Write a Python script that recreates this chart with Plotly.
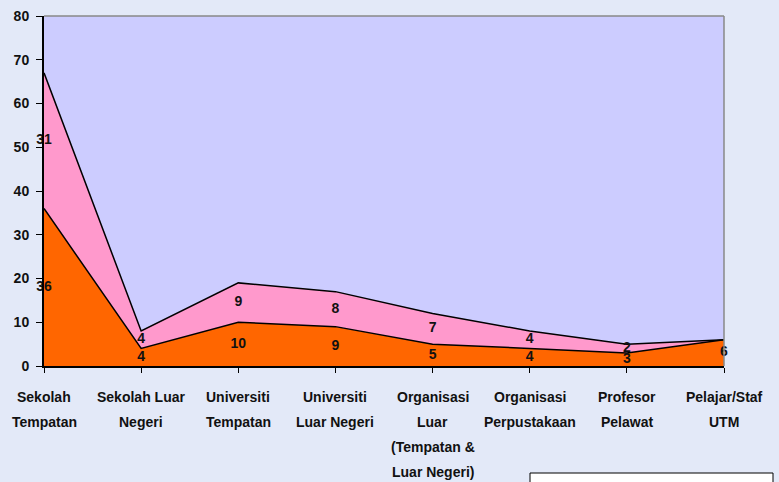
import plotly.graph_objects as go

categories = [
    "Sekolah<br>Tempatan",
    "Sekolah Luar<br>Negeri",
    "Universiti<br>Tempatan",
    "Universiti<br>Luar Negeri",
    "Organisasi<br>Luar<br>(Tempatan &<br>Luar Negeri)",
    "Organisasi<br>Perpustakaan",
    "Profesor<br>Pelawat",
    "Pelajar/Staf<br>UTM",
]
series_orange = [36, 4, 10, 9, 5, 4, 3, 6]
series_pink = [31, 4, 9, 8, 7, 4, 2, 0]
y_ticks = [0, 10, 20, 30, 40, 50, 60, 70, 80]

FONT = "Liberation Sans, Arial, sans-serif"
xs = list(range(len(categories)))

fig = go.Figure()
fig.add_trace(go.Scatter(
    x=xs, y=series_orange, stackgroup="s", mode="lines",
    line=dict(color="black", width=1.5), fillcolor="#FF6600",
    hoverinfo="skip", showlegend=False))
fig.add_trace(go.Scatter(
    x=xs, y=series_pink, stackgroup="s", mode="lines",
    line=dict(color="black", width=1.5), fillcolor="#FF99CC",
    hoverinfo="skip", showlegend=False))

# data labels centred in each band
lab_x, lab_y, lab_t = [], [], []
for i, (o, p) in enumerate(zip(series_orange, series_pink)):
    if o:
        lab_x.append(i); lab_y.append(o / 2); lab_t.append(str(o))
    if p:
        lab_x.append(i); lab_y.append(o + p / 2); lab_t.append(str(p))
fig.add_trace(go.Scatter(
    x=lab_x, y=lab_y, text=lab_t, mode="text", textposition="middle center",
    textfont=dict(family=FONT, size=14, color="#111111", weight="bold"),
    hoverinfo="skip", showlegend=False, cliponaxis=False))

annotations = []
for i, cat in enumerate(categories):
    for j, line in enumerate(cat.split("<br>")):
        annotations.append(dict(
            x=i, y=0, xref="x", yref="paper", text=line, showarrow=False,
            xanchor="center", yanchor="middle", yshift=-31 - 25 * j,
            font=dict(family=FONT, size=14, color="#111111", weight="bold")))

shapes = [
    dict(type="line", xref="paper", yref="paper", x0=0, x1=1, y0=1, y1=1,
         line=dict(color="#888888", width=1.5)),
    dict(type="line", xref="paper", yref="paper", x0=1, x1=1, y0=0, y1=1,
         line=dict(color="#888888", width=1.5)),
    dict(type="rect", xref="paper", yref="paper",
         x0=(530 - 44) / 680, x1=(773 - 44) / 680,
         y0=-0.40, y1=(366 - 473) / 350,
         fillcolor="white", line=dict(color="black", width=1)),
]

fig.update_layout(
    width=779, height=482,
    margin=dict(l=44, r=55, t=16, b=116),
    paper_bgcolor="#E3E9F8",
    plot_bgcolor="#CCCCFF",
    font=dict(family=FONT, size=14, color="#111111", weight="bold"),
    annotations=annotations,
    shapes=shapes,
    showlegend=False,
)
fig.update_xaxes(
    range=[0, 7], tickvals=xs, showticklabels=False, showgrid=False,
    zeroline=False, showline=True, linecolor="black", linewidth=2,
    ticks="outside", ticklen=5, tickcolor="black", tickwidth=1)
fig.update_yaxes(
    range=[0, 80], tickvals=y_ticks, showgrid=False, zeroline=False,
    showline=True, linecolor="black", linewidth=2, automargin=False,
    ticks="outside", ticklen=6, tickcolor="black", tickwidth=1,
    ticklabelstandoff=4,
    tickfont=dict(family=FONT, size=14, color="#111111", weight="bold"))

fig.write_html(
    "out.html",
    config={"displayModeBar": False},
    post_script="document.body.style.margin='0';document.body.style.overflow='hidden';",
)
